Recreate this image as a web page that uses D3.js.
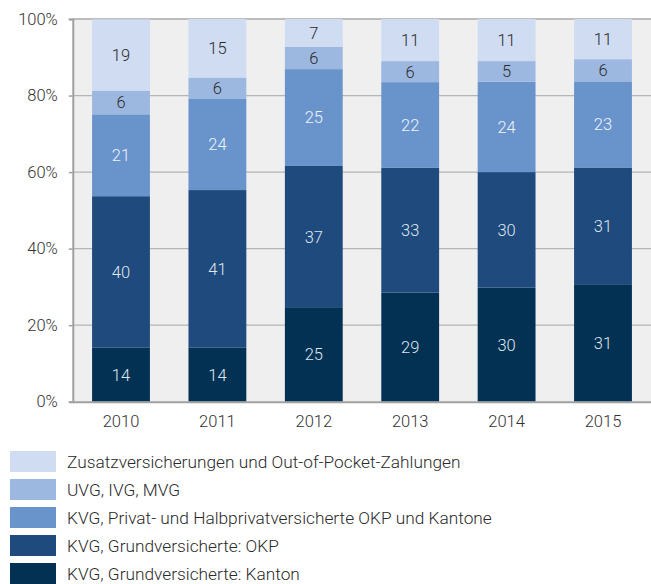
<!DOCTYPE html>
<html>
<head>
<meta charset="utf-8">
<script src="https://cdn.jsdelivr.net/npm/d3@7"></script>
<style>
  html, body { margin: 0; padding: 0; background: #fff; }
  svg { display: block; font-family: Roboto, "Noto Sans", sans-serif; font-weight: 300; }
</style>
</head>
<body>
<svg id="chart" width="651" height="584"></svg>
<script>
// ---- data ----
const years = ["2010", "2011", "2012", "2013", "2014", "2015"];
const seriesNames = [
  "KVG, Grundversicherte: Kanton",
  "KVG, Grundversicherte: OKP",
  "KVG, Privat- und Halbprivatversicherte OKP und Kantone",
  "UVG, IVG, MVG",
  "Zusatzversicherungen und Out-of-Pocket-Zahlungen"
];
const kanton   = [14.1, 14.1, 24.7, 28.5, 29.8, 30.7];
const okp      = [39.6, 41.2, 36.9, 32.6, 30.2, 30.5];
const privat   = [21.4, 23.8, 25.3, 22.4, 23.6, 22.5];
const uvg      = [6.2, 5.6, 5.8, 5.5, 5.4, 5.8];
const zusatz   = [18.6, 15.3, 7.3, 11.0, 11.0, 10.5];
const yTicks   = [0, 20, 40, 60, 80, 100];

const colors = ["#033153", "#1f4a7d", "#6893cb", "#9db8e0", "#cfdcf2"];
const labelColors = ["#dfe6ee", "#dfe6ee", "#eef3fa", "#2a2a2a", "#2a2a2a"];

const rows = years.map((yr, i) => ({
  year: yr, s0: kanton[i], s1: okp[i], s2: privat[i], s3: uvg[i], s4: zusatz[i]
}));
const keys = ["s0", "s1", "s2", "s3", "s4"];
const stacked = d3.stack().keys(keys)(rows);

const svg = d3.select("#chart");
const plotLeft = 72.8, plotRight = 651.2, plotTop = 19, plotBottom = 401.7;

const x = d3.scaleBand().domain(years).range([plotLeft, plotRight]).paddingInner(0.4).paddingOuter(0.2);
const y = d3.scaleLinear().domain([0, 100]).range([plotBottom, plotTop]);

// plot background
svg.append("rect").attr("x", plotLeft).attr("y", plotTop)
  .attr("width", plotRight - plotLeft).attr("height", plotBottom - plotTop).attr("fill", "#efefef");

// grid lines
svg.append("g").selectAll("line").data(yTicks.filter(t => t > 0 && t < 100)).join("line")
  .attr("x1", plotLeft).attr("x2", plotRight)
  .attr("y1", d => y(d)).attr("y2", d => y(d))
  .attr("stroke", "#b5b5b5").attr("stroke-width", 1.2);
// top border
svg.append("line").attr("x1", plotLeft).attr("x2", plotRight).attr("y1", y(100)).attr("y2", y(100))
  .attr("stroke", "#a8a8a8").attr("stroke-width", 1.5);

// bars
const layers = svg.append("g").selectAll("g").data(stacked).join("g")
  .attr("fill", (d, i) => colors[i]);
layers.selectAll("rect").data(d => d).join("rect")
  .attr("x", d => x(d.data.year))
  .attr("width", x.bandwidth())
  .attr("y", d => y(d[1]))
  .attr("height", d => y(d[0]) - y(d[1]));

// labels
const lab = svg.append("g").selectAll("g").data(stacked).join("g");
lab.each(function(layer, li) {
  d3.select(this).selectAll("text").data(layer).join("text")
    .attr("x", d => x(d.data.year) + x.bandwidth() / 2)
    .attr("y", d => (y(d[0]) + y(d[1])) / 2)
    .attr("dy", "0.36em")
    .attr("text-anchor", "middle")
    .attr("font-size", 16.5)
    .attr("fill", labelColors[li])
    .text(d => Math.round(d[1] - d[0]));
});

// y axis
const yAxis = svg.append("g").attr("transform", `translate(${plotLeft},0)`)
  .call(d3.axisLeft(y).tickValues(yTicks).tickFormat(d => d + "%").tickSize(4).tickPadding(11));
yAxis.select(".domain").attr("stroke", "#a0a0a0").attr("stroke-width", 2);
yAxis.selectAll(".tick line").attr("stroke", "#a0a0a0").attr("stroke-width", 1.5);
yAxis.selectAll(".tick text").attr("font-size", 16.5).attr("font-family", "Roboto")
  .attr("font-weight", 300).attr("fill", "#333");

// x axis
const xAxis = svg.append("g").attr("transform", `translate(0,${plotBottom})`)
  .call(d3.axisBottom(x).tickSize(0).tickPadding(14));
xAxis.select(".domain").attr("stroke", "#a0a0a0").attr("stroke-width", 2);
xAxis.selectAll(".tick text").attr("font-size", 16.5).attr("font-family", "Roboto")
  .attr("font-weight", 300).attr("fill", "#333");

// legend (top item = last series)
const legendOrder = [4, 3, 2, 1, 0];
const leg = svg.append("g").selectAll("g").data(legendOrder).join("g")
  .attr("transform", (d, i) => `translate(10,${451 + i * 28})`);
leg.append("rect").attr("width", 46).attr("height", 21).attr("fill", d => colors[d]);
leg.append("text").attr("x", 57).attr("y", 11).attr("dy", "0.36em")
  .attr("font-size", 17.3).attr("fill", "#2a2a2a")
  .text(d => seriesNames[d]);
</script>
</body>
</html>
